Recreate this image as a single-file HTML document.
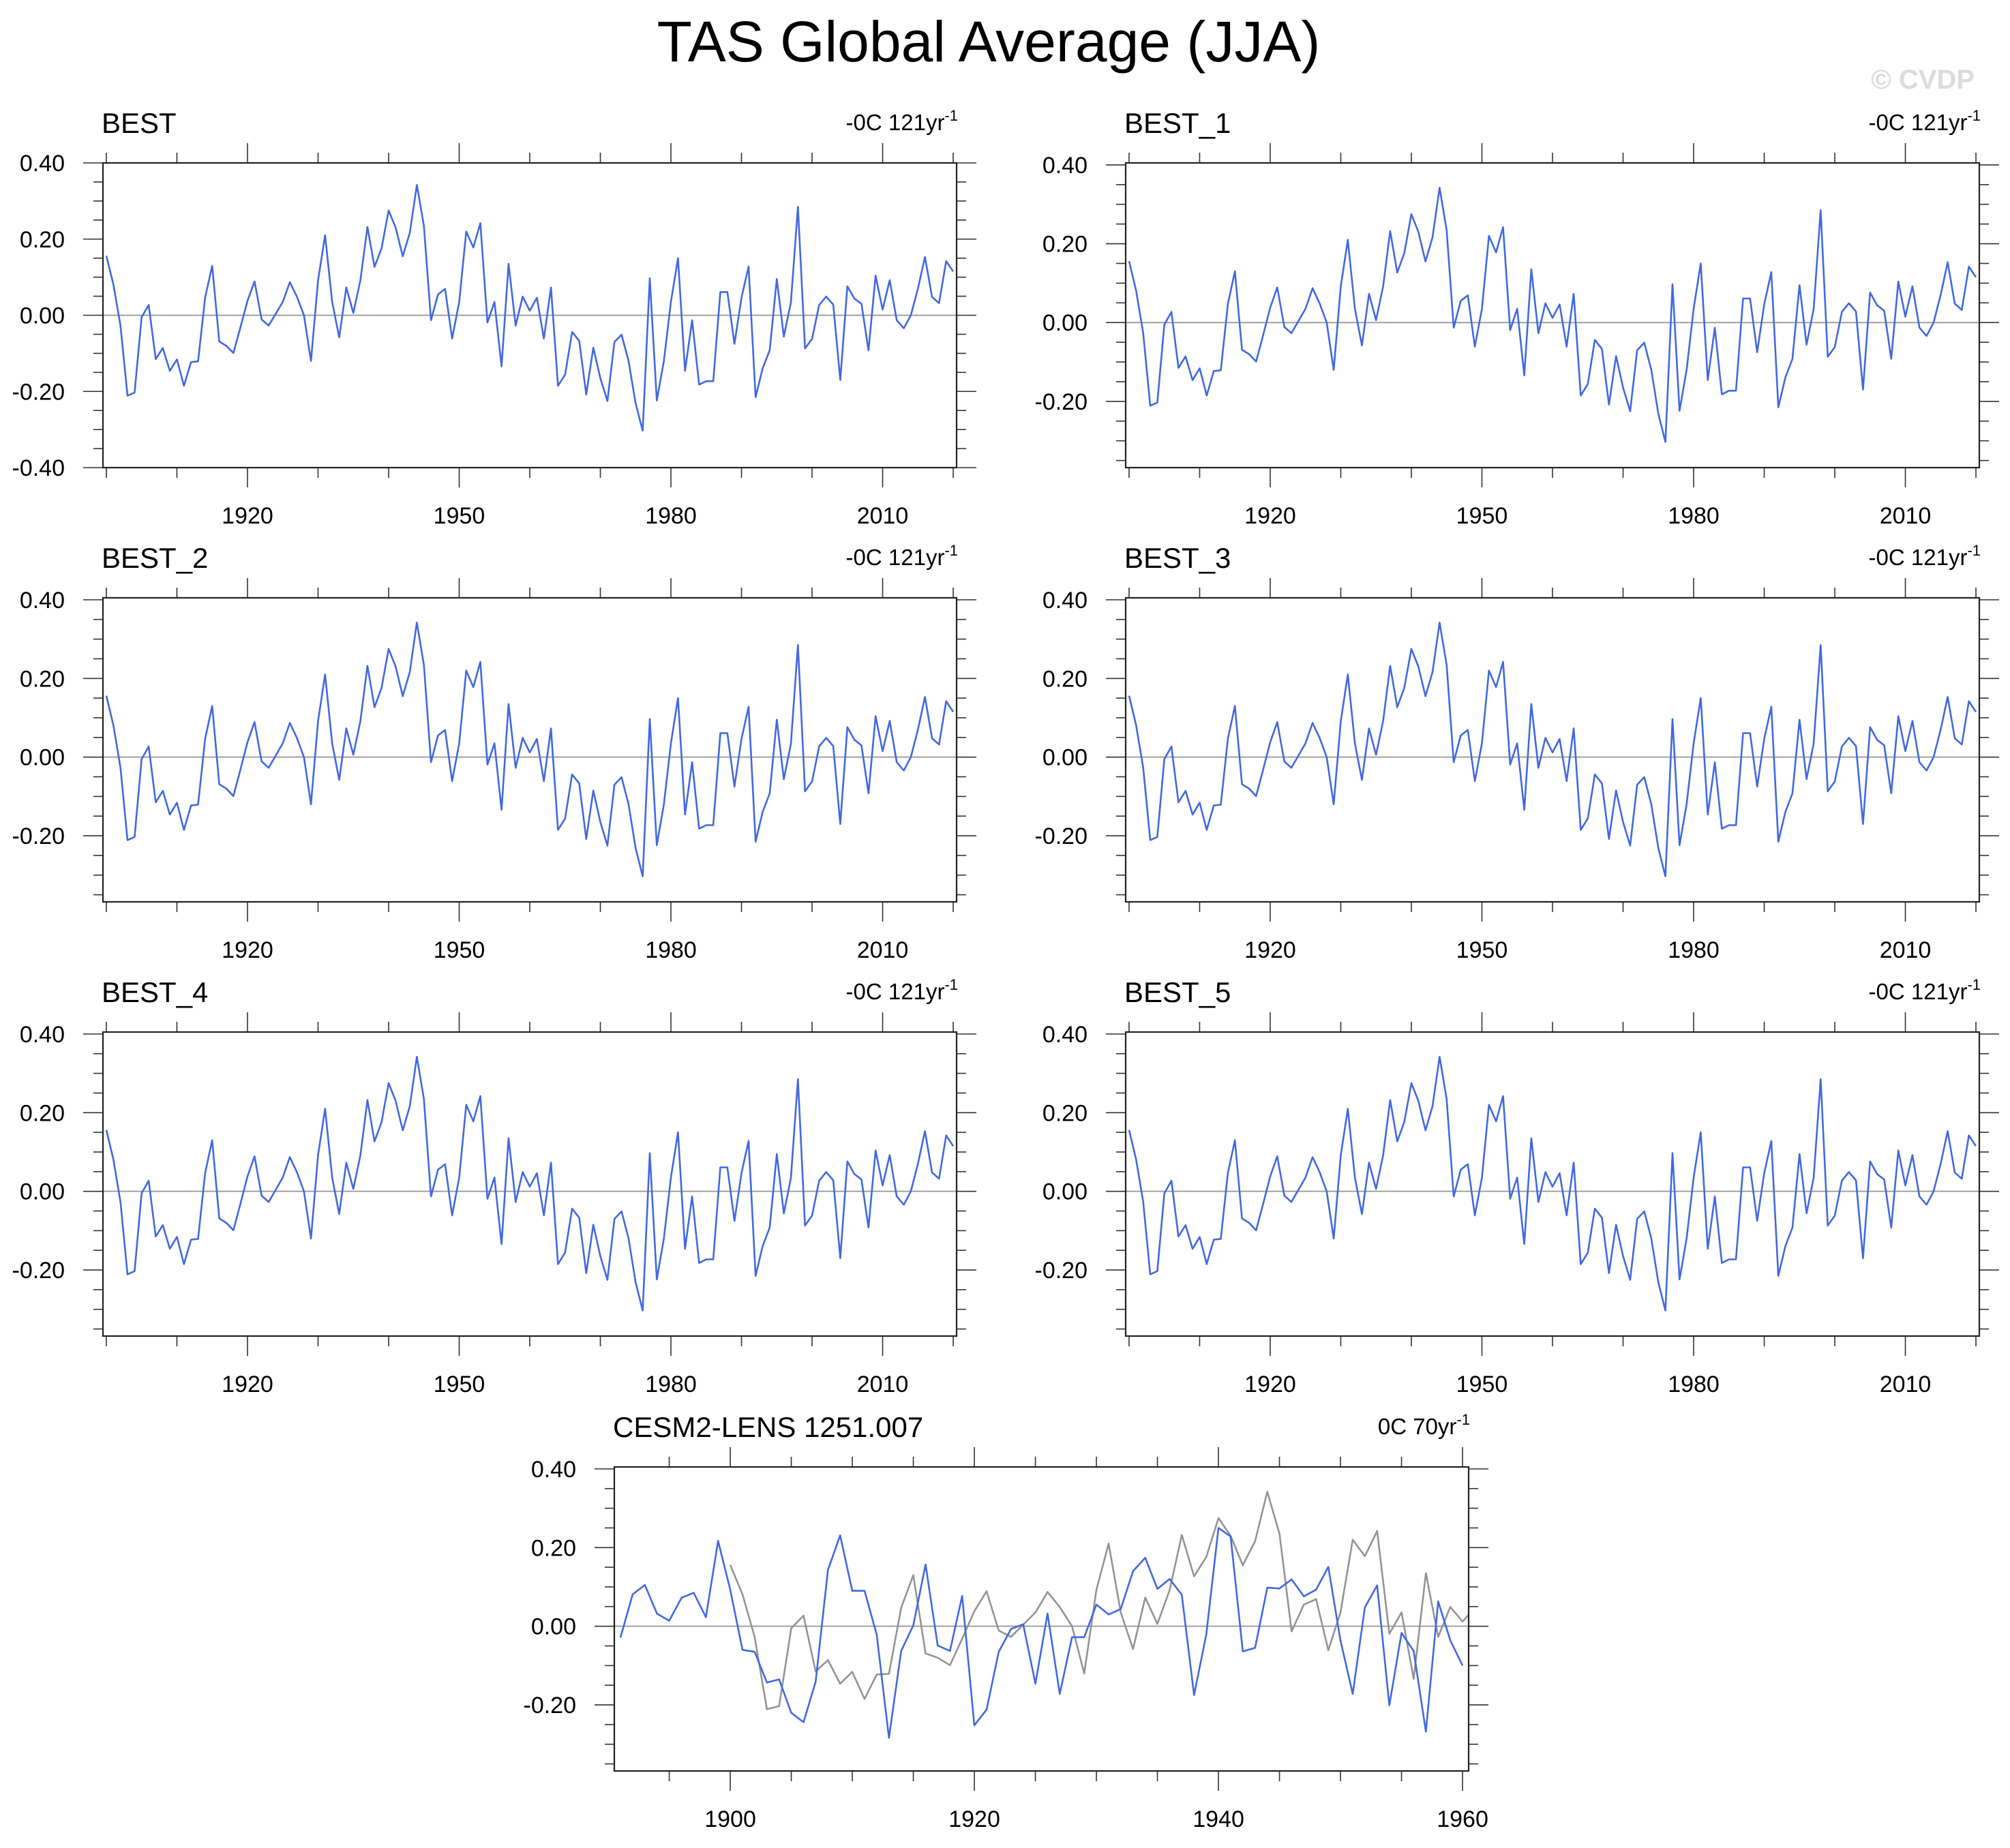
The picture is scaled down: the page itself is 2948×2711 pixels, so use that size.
<!DOCTYPE html>
<html><head><meta charset="utf-8"><style>
html,body{margin:0;padding:0;background:#fff;}
svg{display:block;font-family:"Liberation Sans",sans-serif;}
</style></head><body>
<svg id="chart" width="2948" height="2711" viewBox="0 0 2948 2711" xmlns="http://www.w3.org/2000/svg">
<text x="1450" y="90" font-size="84" text-anchor="middle" fill="#000">TAS Global Average (JJA)</text>
<text x="2896" y="130" font-size="40" font-weight="bold" text-anchor="end" fill="#dcdcdc">© CVDP</text>
</svg>
<script>
const obsYears = [1900, 2020];
const obsValues = [0.156,0.081,-0.027,-0.211,-0.203,-0.005,0.027,-0.115,-0.086,-0.146,-0.116,-0.185,-0.123,-0.121,0.047,0.130,-0.069,-0.080,-0.099,-0.032,
0.038,0.089,-0.011,-0.027,0.004,0.035,0.087,0.049,0.000,-0.120,0.092,0.210,0.035,-0.058,0.073,0.006,0.092,0.232,0.127,0.176,
0.275,0.230,0.155,0.216,0.342,0.235,-0.013,0.055,0.069,-0.061,0.035,0.220,0.178,0.242,-0.019,0.035,-0.134,0.135,-0.027,0.049,
0.012,0.046,-0.061,0.073,-0.185,-0.156,-0.044,-0.067,-0.208,-0.085,-0.165,-0.225,-0.070,-0.051,-0.120,-0.232,-0.303,0.097,-0.224,-0.120,
0.035,0.150,-0.146,-0.013,-0.182,-0.173,-0.173,0.061,0.061,-0.075,0.046,0.128,-0.215,-0.139,-0.092,0.095,-0.056,0.034,0.285,-0.087,
-0.062,0.027,0.049,0.028,-0.170,0.076,0.044,0.030,-0.092,0.104,0.015,0.092,-0.013,-0.034,0.000,0.070,0.153,0.048,0.032,0.142,0.115];
const modelStartYear = 1891;
const modelValues = [-0.029,0.081,0.105,0.032,0.014,0.072,0.085,0.023,0.217,
0.093,-0.060,-0.065,-0.143,-0.135,-0.220,-0.244,-0.141,0.143,0.231,0.090,0.090,-0.021,-0.284,-0.063,0.002,0.157,-0.049,-0.063,0.077,
-0.252,-0.212,-0.065,-0.007,0.005,-0.146,0.032,-0.172,-0.028,-0.028,0.055,0.030,0.044,0.140,0.174,0.095,0.120,0.080,-0.175,-0.021,
0.250,0.228,-0.064,-0.055,0.098,0.096,0.119,0.076,0.093,0.151,-0.036,-0.172,0.048,0.104,-0.201,-0.017,-0.063,-0.268,0.063,-0.036,-0.100];
const panelTitles = ["BEST","BEST_1","BEST_2","BEST_3","BEST_4","BEST_5"];
const trendLabel = "-0C 121yr";
const modelTitle = "CESM2-LENS 1251.007";
const modelTrendLabel = "0C 70yr";
const yTickValues = [0.4,0.2,0,-0.2,-0.4];
const yTickLabels = ["0.40","0.20","0.00","-0.20","-0.40"];
const obsXTicks = [1920,1950,1980,2010];
const modelXTicks = [1900,1920,1940,1960];

const svg = document.getElementById('chart');
const NS = 'http://www.w3.org/2000/svg';
function mk(tag, attrs){const e=document.createElementNS(NS,tag);for(const k in attrs)e.setAttribute(k,attrs[k]);return e;}

function drawPanel(cfg, idx){
  const g = mk('g',{});
  
  
  svg.appendChild(g);
  const L=cfg.L,R=cfg.R,T=cfg.T,B=cfg.B;
  const xs = v => L + (v-cfg.x0)/(cfg.x1-cfg.x0)*(R-L);
  const ys = v => T + (cfg.y1-v)/(cfg.y1-cfg.y0)*(B-T);
  const clipId='clip'+idx;
  const cp=mk('clipPath',{id:clipId});cp.appendChild(mk('rect',{x:L,y:T,width:R-L,height:B-T}));g.appendChild(cp);
  const z=mk('line',{x1:L,x2:R,y1:ys(0),y2:ys(0),stroke:'#a0a0a0','stroke-width':2});
  
  
  g.appendChild(z);
  for(let k=-8;k<=8;k++){
    const v=k*0.05; if(v<cfg.y0-1e-6||v>cfg.y1+1e-6)continue;
    const major=(k%4===0); const len=major?29:14; const y=ys(v);
    g.appendChild(mk('line',{x1:L-len,x2:L,y1:y,y2:y,stroke:'#333','stroke-width':1.6}));
    g.appendChild(mk('line',{x1:R,x2:R+len,y1:y,y2:y,stroke:'#333','stroke-width':1.6}));
  }
  yTickValues.forEach((v,i)=>{
    if(v<cfg.y0-1e-6||v>cfg.y1+1e-6)return;
    const t=mk('text',{x:L-56,y:ys(v)+12,'font-size':34,'text-anchor':'end',fill:'#000'});
    t.textContent=yTickLabels[i];
    
    
    g.appendChild(t);
  });
  for(let yr=Math.ceil(cfg.x0/cfg.minor)*cfg.minor; yr<=cfg.x1; yr+=cfg.minor){
    const major=cfg.majors.includes(yr); const len=major?29:15; const x=xs(yr);
    g.appendChild(mk('line',{x1:x,x2:x,y1:T-len,y2:T,stroke:'#333','stroke-width':1.6}));
    g.appendChild(mk('line',{x1:x,x2:x,y1:B,y2:B+len,stroke:'#333','stroke-width':1.6}));
  }
  cfg.majors.forEach(yr=>{
    const t=mk('text',{x:xs(yr),y:B+82,'font-size':34,'text-anchor':'middle',fill:'#000'});
    t.textContent=String(yr);
    
    
    g.appendChild(t);
  });
  cfg.series.forEach(s=>{
    const pts=s.values.map((v,i)=>xs(s.start+i).toFixed(1)+','+ys(v).toFixed(1)).join(' ');
    const pl=mk('polyline',{points:pts,fill:'none',stroke:s.color,'stroke-width':2.6,'stroke-linejoin':'round','clip-path':'url(#'+clipId+')'});
    
    
    g.appendChild(pl);
  });
  const f=mk('rect',{x:L,y:T,width:R-L,height:B-T,fill:'none',stroke:'#222','stroke-width':2.2});
  
  
  g.appendChild(f);
  const tt=mk('text',{x:L-2,y:T-44,'font-size':42,fill:'#000'});
  tt.textContent=cfg.title;
  
  
  g.appendChild(tt);
  const tr=mk('text',{x:R+2,y:T-48,'font-size':33,'text-anchor':'end',fill:'#000'});
  tr.textContent=cfg.trend;
  const sup=mk('tspan',{'font-size':22,dy:-14});sup.textContent='-1';tr.appendChild(sup);
  
  
  g.appendChild(tr);
}

const rowsTB=[[239,686],[877,1323],[1514,1960]];
const colsLR=[[151,1403],[1651,2903]];
panelTitles.forEach((title,i)=>{
  const r=Math.floor(i/2), c=i%2;
  drawPanel({key:title.toLowerCase().replace('_','-'),title:title,trend:trendLabel,
    L:colsLR[c][0],R:colsLR[c][1],T:rowsTB[r][0],B:rowsTB[r][1],
    x0:obsYears[0]-0.48,x1:obsYears[1]+0.48,
    y0:(i===0?-0.4:-0.368),y1:(i===0?0.4:0.405),
    minor:10,majors:obsXTicks,
    series:[{name:'obs-series-line',start:obsYears[0],values:obsValues,color:'#4169e1'}]},i);
});
drawPanel({key:'cesm2-lens',title:modelTitle,trend:modelTrendLabel,
  L:901,R:2154,T:2152,B:2598,x0:1890.5,x1:1960.5,y0:-0.368,y1:0.405,
  minor:5,majors:modelXTicks,
  series:[{name:'obs-reference-line',start:obsYears[0],values:obsValues,color:'#949494'},
          {name:'model-series-line',start:modelStartYear,values:modelValues,color:'#4169e1'}]},6);
</script>
</body></html>
